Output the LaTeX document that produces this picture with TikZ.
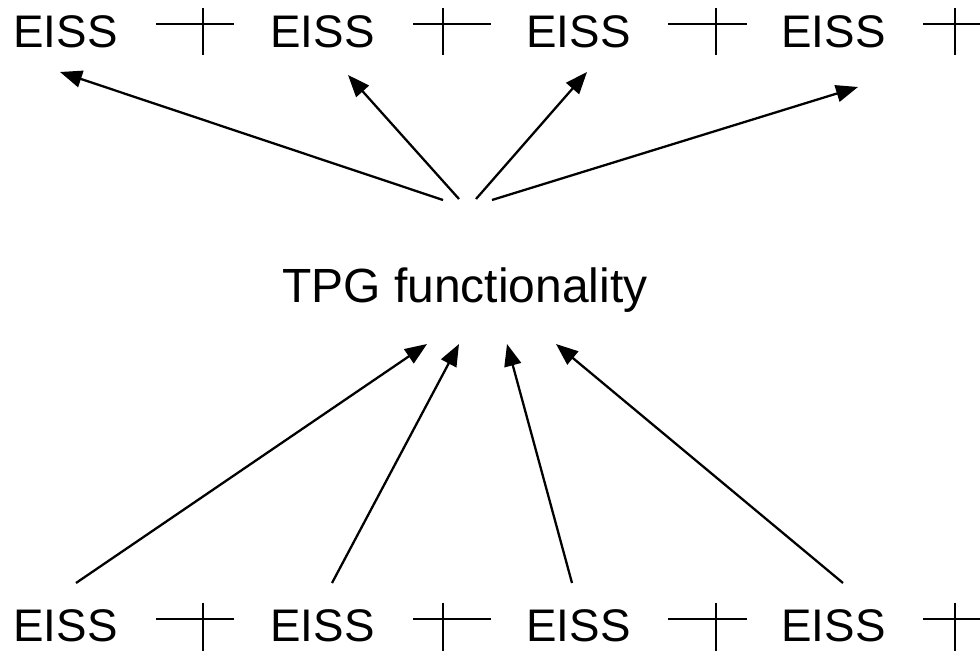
\documentclass[tikz,border=0pt]{standalone}
\usepackage{fontspec}
\setmainfont{Liberation Sans}
\usetikzlibrary{arrows.meta}
\tikzset{
  lbl/.style={anchor=base west,inner sep=0pt,font=\fontsize{26}{31}\selectfont},
  feed/.style={line width=1.3pt,-{Triangle[length=0.44cm,width=0.34cm]}},
  tick/.style={line width=1.2pt}
}
\begin{document}
\begin{tikzpicture}
      \useasboundingbox (0,0) rectangle (19.6,13.02);
      \draw
        (0.26,12.06) node[lbl] (t1){EISS}
        (5.40,12.06) node[lbl] (t2){EISS}
        (10.52,12.06) node[lbl] (t3){EISS}
        (15.62,12.06) node[lbl] (t4){EISS}
        (0.26,0.18) node[lbl] (b1){EISS}
        (5.40,0.18) node[lbl] (b2){EISS}
        (10.52,0.18) node[lbl] (b3){EISS}
        (15.62,0.18) node[lbl] (b4){EISS}
        (5.64,6.96) node[lbl,font=\fontsize{27.3}{32}\selectfont] (tpg){TPG functionality};
      % arrow ends
      \coordinate (o1) at (8.86,9.02);
      \coordinate (o2) at (9.18,9.04);
      \coordinate (o3) at (9.52,9.04);
      \coordinate (o4) at (9.84,9.02);
      \coordinate (h1) at (1.20,11.58);
      \coordinate (h2) at (6.96,11.52);
      \coordinate (h3) at (11.74,11.58);
      \coordinate (h4) at (17.16,11.28);
      \coordinate (s1) at (1.52,1.36);
      \coordinate (s2) at (6.64,1.36);
      \coordinate (s3) at (11.44,1.36);
      \coordinate (s4) at (16.86,1.36);
      \coordinate (i1) at (8.54,6.14);
      \coordinate (i2) at (9.18,6.14);
      \coordinate (i3) at (10.14,6.14);
      \coordinate (i4) at (11.12,6.14);
      \begin{scope}[feed]
        \draw (o1) to (h1);
        \draw (o2) to (h2);
        \draw (o3) to (h3);
        \draw (o4) to (h4);
        \draw (s1) to (i1);
        \draw (s2) to (i2);
        \draw (s3) to (i3);
        \draw (s4) to (i4);
      \end{scope}
      % separators
      \begin{scope}[tick]
        \draw (3.12,12.54) -- (4.68,12.54) (4.06,12.86) -- (4.06,11.92);
        \draw (8.26,12.54) -- (9.82,12.54) (8.86,12.86) -- (8.86,11.92);
        \draw (13.36,12.54) -- (14.94,12.54) (14.32,12.86) -- (14.32,11.92);
        \draw (18.46,12.54) -- (19.6,12.54) (19.10,12.86) -- (19.10,11.92);
        \draw (3.12,0.64) -- (4.68,0.64) (4.06,0.96) -- (4.06,0);
        \draw (8.26,0.64) -- (9.82,0.64) (8.86,0.96) -- (8.86,0);
        \draw (13.36,0.64) -- (14.94,0.64) (14.32,0.96) -- (14.32,0);
        \draw (18.46,0.64) -- (19.6,0.64) (19.10,0.96) -- (19.10,0);
      \end{scope}
\end{tikzpicture}
\end{document}
